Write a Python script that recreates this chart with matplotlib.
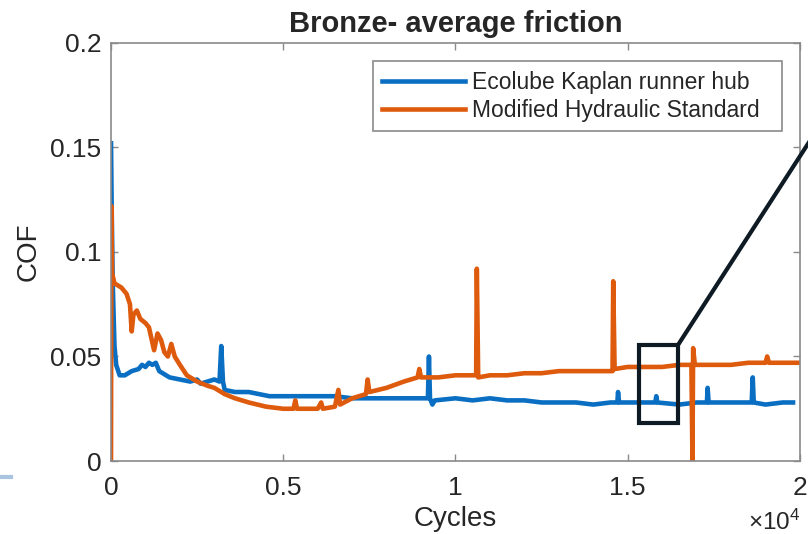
import matplotlib
matplotlib.use("Agg")
import matplotlib.pyplot as plt
from matplotlib.ticker import FuncFormatter, FixedLocator
from matplotlib.patches import Rectangle
from matplotlib.lines import Line2D

plt.rcParams['font.family'] = ['Liberation Sans', 'DejaVu Sans']
plt.rcParams['mathtext.fontset'] = 'custom'
plt.rcParams['mathtext.rm'] = 'Liberation Sans'

title = "Bronze- average friction"
xlabel = "Cycles"
ylabel = "COF"
series_names = ["Ecolube Kaplan runner hub", "Modified Hydraulic Standard"]

ecolube_cycles = [0, 20, 50, 100, 150, 250, 400, 600, 800, 900, 1000, 1100, 1200, 1300,
                  1400, 1500, 1700, 2000, 2300, 2500, 2600, 2800, 3000, 3150, 3200, 3250,
                  3300, 3600, 4000, 4300, 4600, 5000, 5500, 6000, 6500, 7000, 7500, 8000,
                  8500, 9000, 9200, 9230, 9260, 9330, 9400, 10000, 10500, 11000, 11500,
                  12000, 12500, 13000, 13500, 14000, 14500, 14700, 14720, 14750, 15000,
                  15500, 15800, 15830, 15860, 16500, 17000, 17300, 17320, 17350, 18000,
                  18500, 18600, 18630, 18660, 19000, 19500, 19800]
ecolube_cof = [0.152, 0.120, 0.085, 0.055, 0.046, 0.041, 0.041, 0.043, 0.044, 0.046, 0.045,
               0.047, 0.046, 0.047, 0.043, 0.042, 0.040, 0.039, 0.038, 0.039, 0.037, 0.038,
               0.039, 0.038, 0.055, 0.038, 0.034, 0.033, 0.033, 0.032, 0.031, 0.031, 0.031,
               0.031, 0.031, 0.030, 0.030, 0.030, 0.030, 0.030, 0.030, 0.050, 0.030, 0.027,
               0.029, 0.030, 0.029, 0.030, 0.029, 0.029, 0.028, 0.028, 0.028, 0.027, 0.028,
               0.028, 0.033, 0.028, 0.028, 0.028, 0.028, 0.031, 0.028, 0.027, 0.028, 0.028,
               0.035, 0.028, 0.028, 0.028, 0.028, 0.040, 0.028, 0.027, 0.028, 0.028]

hydraulic_cycles = [0, 10, 30, 100, 300, 450, 550, 600, 650, 750, 850, 1000, 1100, 1250,
                    1350, 1450, 1550, 1650, 1750, 1850, 2000, 2200, 2500, 2800, 3000, 3300,
                    3600, 4000, 4500, 5000, 5300, 5350, 5400, 6000, 6100, 6150, 6500, 6600,
                    6650, 7000, 7400, 7450, 7500, 8000, 8500, 8900, 8950, 9000, 9500, 10000,
                    10500, 10600, 10620, 10660, 11000, 11500, 12000, 12500, 13000, 13500,
                    14000, 14500, 14560, 14580, 14620, 15000, 15500, 16000, 16500, 16850,
                    16880, 16900, 16950, 17500, 18000, 18500, 19000, 19050, 19100, 19500,
                    20000]
hydraulic_cof = [0.0, 0.122, 0.090, 0.085, 0.083, 0.080, 0.075, 0.062, 0.070, 0.072, 0.068,
                 0.066, 0.064, 0.053, 0.061, 0.058, 0.052, 0.050, 0.056, 0.050, 0.046, 0.041,
                 0.038, 0.036, 0.035, 0.032, 0.030, 0.028, 0.026, 0.025, 0.025, 0.029, 0.025,
                 0.025, 0.028, 0.025, 0.026, 0.034, 0.027, 0.030, 0.032, 0.039, 0.033, 0.035,
                 0.038, 0.040, 0.044, 0.040, 0.040, 0.041, 0.041, 0.041, 0.092, 0.040, 0.041,
                 0.041, 0.042, 0.042, 0.043, 0.043, 0.043, 0.043, 0.043, 0.086, 0.044, 0.045,
                 0.045, 0.045, 0.046, 0.046, 0.0, 0.054, 0.046, 0.046, 0.046, 0.047, 0.047,
                 0.050, 0.047, 0.047, 0.047]

x_ticks = [0, 5000, 10000, 15000, 20000]
y_ticks = [0, 0.05, 0.1, 0.15, 0.2]
zoom_box = (15330, 0.0182, 16460, 0.0555)  # x0, y0, x1, y1 (annotation)
zoom_leader_end = (20870, 0.168)

blue = '#0A6FC2'
orange = '#DE5A0C'
spine_gray = '#8a8a8a'
text_col = '#262626'

fig = plt.figure(figsize=(8.08, 5.34), dpi=100)
ax = fig.add_axes([0.1374, 0.1367, 0.8526, 0.7828])

ax.plot(ecolube_cycles, ecolube_cof, color=blue, lw=3.3, label=series_names[0],
        solid_joinstyle='round')
ax.plot(hydraulic_cycles, hydraulic_cof, color=orange, lw=3.3, label=series_names[1],
        solid_joinstyle='round')

ax.set_xlim(0, 20000)
ax.set_ylim(0, 0.2)
ax.xaxis.set_major_locator(FixedLocator(x_ticks))
ax.yaxis.set_major_locator(FixedLocator(y_ticks))
ax.xaxis.set_major_formatter(FuncFormatter(lambda v, p: f"{v/1e4:g}"))
ax.yaxis.set_major_formatter(FuncFormatter(lambda v, p: f"{v:g}"))

for s in ax.spines.values():
    s.set_color(spine_gray)
    s.set_linewidth(1.2)
ax.tick_params(direction='in', top=True, right=True, length=5, width=1.0,
               color=spine_gray, labelcolor=text_col, labelsize=19)
ax.tick_params(axis='x', pad=11)
ax.tick_params(axis='y', pad=7)

ax.set_title(title, fontsize=21, fontweight='bold', color=text_col, pad=8)
ax.set_xlabel(xlabel, fontsize=20, color=text_col, labelpad=4)
ax.set_ylabel(ylabel, fontsize=20, color=text_col, labelpad=6)

ax.text(1.0, -0.147, r'$\mathregular{\times10^{4}}$', transform=ax.transAxes,
        ha='right', va='center', fontsize=17.5, color=text_col)

leg = ax.legend(loc='upper right', fontsize=16.5, frameon=True, fancybox=False,
                edgecolor=spine_gray, framealpha=1, handlelength=3.6,
                handletextpad=0.3, labelspacing=0.2, borderpad=0.42,
                borderaxespad=0.8)
leg.get_frame().set_linewidth(1.2)
for t in leg.get_texts():
    t.set_color(text_col)
    t.set_text(t.get_text() + "\u00a0\u00a0")

x0, y0, x1, y1 = zoom_box
ax.add_patch(Rectangle((x0, y0), x1 - x0, y1 - y0, fill=False,
                       edgecolor='#0E1A24', lw=3.0, zorder=5))
ax.add_line(Line2D([x1, zoom_leader_end[0]], [y1, zoom_leader_end[1]],
                   color='#0E1A24', lw=3.0, clip_on=False, zorder=5))

fig.add_artist(Line2D([0.0, 0.013], [0.107, 0.107], color='#A9C4E0', lw=3,
                      transform=fig.transFigure))

fig.savefig('out.png', dpi=100)
